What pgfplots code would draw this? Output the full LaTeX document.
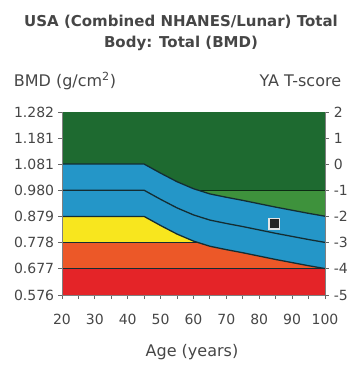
\documentclass[border=0pt]{standalone}
\usepackage{pgfplots}
\pgfplotsset{compat=1.18}
\usepackage{fontspec}
\setmainfont{DejaVu Sans}
\definecolor{dkgreen}{RGB}{30,106,48}
\definecolor{ltgreen}{RGB}{62,146,60}
\definecolor{bandblue}{RGB}{36,150,200}
\definecolor{bandyellow}{RGB}{248,230,30}
\definecolor{bandorange}{RGB}{236,88,40}
\definecolor{bandred}{RGB}{228,36,40}
\definecolor{bandline}{RGB}{20,45,50}
\definecolor{txt}{RGB}{70,70,70}
\begin{document}
\fontsize{14bp}{16bp}\selectfont
\begin{tikzpicture}
\path[use as bounding box] (-62bp,-88bp) rectangle (297bp,295bp);
\begin{axis}[
  name=ax,
  at={(0,0)}, anchor=south west,
  width=263bp, height=183bp, scale only axis,
  xmin=20, xmax=100, ymin=0.576, ymax=1.282,
  axis x line*=bottom, axis y line*=left,
  axis line style={draw=gray, line width=0.9pt, -},
  xtick={20,30,...,100}, minor x tick num=1,
  ytick={0.576,0.677,0.778,0.879,0.980,1.081,1.181,1.282},
  yticklabels={0.576,0.677,0.778,0.879,0.980,1.081,1.181,1.282},
  tick align=outside, major tick length=4bp, minor tick length=4bp,
  tick style={draw=gray!80!black, line width=0.9pt},
  /pgf/number format/assume math mode=true,
  ticklabel style={font=\fontsize{14bp}{16bp}\selectfont, text=txt},
  xticklabel style={yshift=-10bp},
  yticklabel style={xshift=1bp},
  axis on top,
]
% background bands
\addplot[fill=dkgreen, draw=none] coordinates {(20,0.980) (100,0.980) (100,1.282) (20,1.282)} -- cycle;
\addplot[fill=ltgreen, draw=none] coordinates {(20,0.879) (100,0.879) (100,0.980) (20,0.980)} -- cycle;
\addplot[fill=bandyellow, draw=none] coordinates {(20,0.778) (100,0.778) (100,0.879) (20,0.879)} -- cycle;
\addplot[fill=bandorange, draw=none] coordinates {(20,0.677) (100,0.677) (100,0.778) (20,0.778)} -- cycle;
\addplot[fill=bandred, draw=none] coordinates {(20,0.576) (100,0.576) (100,0.677) (20,0.677)} -- cycle;
\addplot[bandline, line width=1.1pt] coordinates {(20,0.778) (100,0.778)};
\addplot[bandline, line width=1.1pt] coordinates {(20,0.677) (100,0.677)};
\addplot[black!60!dkgreen, line width=0.8pt] coordinates {(20,0.980) (100,0.980)};
% blue reference band
\addplot[fill=bandblue, draw=none] coordinates {
 (20,1.081) (45,1.081) (50,1.046) (55,1.013) (60,0.986) (65,0.966) (70,0.953) (75,0.941) (80,0.928) (85,0.915) (90,0.903) (95,0.891) (100,0.880)
 (100,0.678) (95,0.689) (90,0.701) (85,0.713) (80,0.726) (75,0.739) (70,0.751) (65,0.764) (60,0.784) (55,0.811) (50,0.844) (45,0.879) (20,0.879)} -- cycle;
% curves
\addplot[bandline, line width=1.3pt] coordinates {
 (20,1.081) (45,1.081) (50,1.046) (55,1.013) (60,0.986) (65,0.966) (70,0.953) (75,0.941) (80,0.928) (85,0.915) (90,0.903) (95,0.891) (100,0.880)};
\addplot[bandline, line width=1.3pt] coordinates {
 (20,0.980) (45,0.980) (50,0.945) (55,0.912) (60,0.885) (65,0.865) (70,0.852) (75,0.840) (80,0.827) (85,0.814) (90,0.802) (95,0.790) (100,0.779)};
\addplot[bandline, line width=1.3pt] coordinates {
 (20,0.879) (45,0.879) (50,0.844) (55,0.811) (60,0.784) (65,0.764) (70,0.751) (75,0.739) (80,0.726) (85,0.713) (90,0.701) (95,0.689) (100,0.678)};
% patient
\addplot[only marks, mark=square*, mark size=5.3bp, mark options={fill=black!85, draw=white!80!gray, line width=1.6pt}] coordinates {(84.6,0.851)};
\end{axis}
\begin{axis}[
  at={(0,0)}, anchor=south west,
  width=263bp, height=183bp, scale only axis,
  xmin=20, xmax=100, ymin=-5, ymax=2,
  axis y line*=right, axis x line=none,
  axis line style={draw=gray, line width=0.9pt, -},
  ytick={-5,-4,-3,-2,-1,0,1,2},
  yticklabels={-5,-4,-3,-2,-1,0,1,2},
  tick align=outside, major tick length=4bp,
  tick style={draw=gray!80!black, line width=0.9pt},
  /pgf/number format/assume math mode=true,
  ticklabel style={font=\fontsize{14bp}{16bp}\selectfont, text=txt},
]
\end{axis}
\node[text=txt, font=\fontsize{15bp}{21bp}\selectfont\bfseries, align=center] at (119bp,262.5bp) {USA (Combined NHANES/Lunar) Total\\Body: Total (BMD)};
\node[text=txt, anchor=west, font=\fontsize{16bp}{18bp}\selectfont] at (-53bp,214bp) {BMD (g/cm\textsuperscript{2})};
\node[text=txt, anchor=east, font=\fontsize{16bp}{18bp}\selectfont] at (284bp,214bp) {YA T-score};
\node[text=txt, font=\fontsize{16bp}{18bp}\selectfont] at (130bp,-57bp) {Age (years)};
\end{tikzpicture}
\end{document}
